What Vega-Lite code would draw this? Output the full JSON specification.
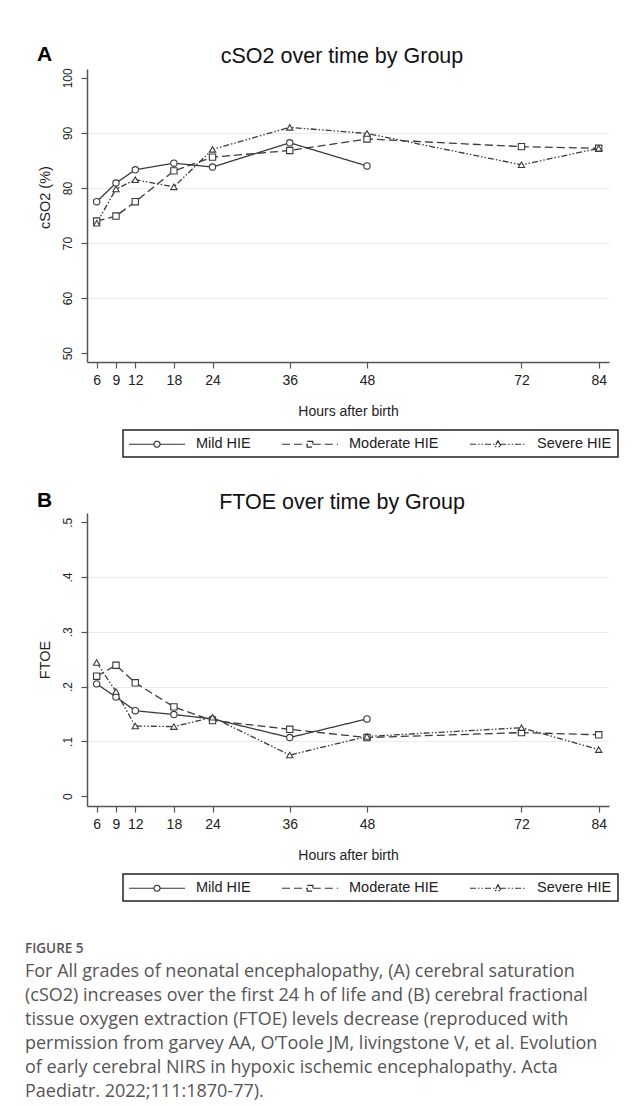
{
  "$schema": "https://vega.github.io/schema/vega-lite/v6.json",
  "background": "white",
  "padding": {"left": 25, "top": 44, "right": 5, "bottom": 5},
  "datasets": {
    "cso2": [
      {"group": "Mild HIE", "hour": 6, "value": 77.5},
      {"group": "Mild HIE", "hour": 9, "value": 80.9},
      {"group": "Mild HIE", "hour": 12, "value": 83.3},
      {"group": "Mild HIE", "hour": 18, "value": 84.5},
      {"group": "Mild HIE", "hour": 24, "value": 83.8},
      {"group": "Mild HIE", "hour": 36, "value": 88.2},
      {"group": "Mild HIE", "hour": 48, "value": 84.0},
      {"group": "Moderate HIE", "hour": 6, "value": 74.0},
      {"group": "Moderate HIE", "hour": 9, "value": 74.9},
      {"group": "Moderate HIE", "hour": 12, "value": 77.5},
      {"group": "Moderate HIE", "hour": 18, "value": 83.1},
      {"group": "Moderate HIE", "hour": 24, "value": 85.6},
      {"group": "Moderate HIE", "hour": 36, "value": 86.8},
      {"group": "Moderate HIE", "hour": 48, "value": 88.9},
      {"group": "Moderate HIE", "hour": 72, "value": 87.5},
      {"group": "Moderate HIE", "hour": 84, "value": 87.2},
      {"group": "Severe HIE", "hour": 6, "value": 73.6},
      {"group": "Severe HIE", "hour": 9, "value": 79.8},
      {"group": "Severe HIE", "hour": 12, "value": 81.5},
      {"group": "Severe HIE", "hour": 18, "value": 80.2},
      {"group": "Severe HIE", "hour": 24, "value": 87.0},
      {"group": "Severe HIE", "hour": 36, "value": 91.0},
      {"group": "Severe HIE", "hour": 48, "value": 89.9},
      {"group": "Severe HIE", "hour": 72, "value": 84.2},
      {"group": "Severe HIE", "hour": 84, "value": 87.2}
    ],
    "ftoe": [
      {"group": "Mild HIE", "hour": 6, "value": 0.205},
      {"group": "Mild HIE", "hour": 9, "value": 0.181},
      {"group": "Mild HIE", "hour": 12, "value": 0.156},
      {"group": "Mild HIE", "hour": 18, "value": 0.149},
      {"group": "Mild HIE", "hour": 24, "value": 0.141},
      {"group": "Mild HIE", "hour": 36, "value": 0.107},
      {"group": "Mild HIE", "hour": 48, "value": 0.141},
      {"group": "Moderate HIE", "hour": 6, "value": 0.219},
      {"group": "Moderate HIE", "hour": 9, "value": 0.239},
      {"group": "Moderate HIE", "hour": 12, "value": 0.207},
      {"group": "Moderate HIE", "hour": 18, "value": 0.163},
      {"group": "Moderate HIE", "hour": 24, "value": 0.138},
      {"group": "Moderate HIE", "hour": 36, "value": 0.122},
      {"group": "Moderate HIE", "hour": 48, "value": 0.107},
      {"group": "Moderate HIE", "hour": 72, "value": 0.116},
      {"group": "Moderate HIE", "hour": 84, "value": 0.112},
      {"group": "Severe HIE", "hour": 6, "value": 0.244},
      {"group": "Severe HIE", "hour": 9, "value": 0.191},
      {"group": "Severe HIE", "hour": 12, "value": 0.128},
      {"group": "Severe HIE", "hour": 18, "value": 0.127},
      {"group": "Severe HIE", "hour": 24, "value": 0.144},
      {"group": "Severe HIE", "hour": 36, "value": 0.075},
      {"group": "Severe HIE", "hour": 48, "value": 0.109},
      {"group": "Severe HIE", "hour": 72, "value": 0.125},
      {"group": "Severe HIE", "hour": 84, "value": 0.085}
    ]
  },
  "title": {
    "text": "FIGURE 5",
    "subtitle": [
      "For All grades of neonatal encephalopathy, (A) cerebral saturation",
      "(cSO2) increases over the first 24 h of life and (B) cerebral fractional",
      "tissue oxygen extraction (FTOE) levels decrease (reproduced with",
      "permission from garvey AA, O’Toole JM, livingstone V, et al. Evolution",
      "of early cerebral NIRS in hypoxic ischemic encephalopathy. Acta",
      "Paediatr. 2022;111:1870-77)."
    ],
    "orient": "bottom",
    "anchor": "start",
    "frame": "bounds",
    "dx": -12,
    "offset": 40,
    "font": "Open Sans",
    "fontSize": 13.5,
    "fontWeight": 600,
    "color": "#555555",
    "subtitleFont": "Open Sans",
    "subtitleFontSize": 18,
    "subtitleColor": "#555555",
    "subtitleLineHeight": 24,
    "subtitlePadding": 8
  },
  "spacing": 31,
  "resolve": {"scale": {"strokeDash": "independent"}, "legend": {"strokeDash": "independent"}},
  "vconcat": [
    {
      "title": {"text": "A", "anchor": "start", "frame": "bounds", "fontSize": 21, "fontWeight": "bold", "color": "#000000", "font": "Liberation Sans", "offset": 0, "dy": 19},
      "resolve": {"scale": {"strokeDash": "independent"}, "legend": {"strokeDash": "independent"}},
      "vconcat": [
        {
          "width": 522,
          "height": 293,
          "data": {"name": "cso2"},
          "title": {"text": "cSO2 over time by Group", "anchor": "middle", "frame": "group", "dx": -6, "fontSize": 21.5, "fontWeight": "normal", "font": "Liberation Sans", "color": "#111111", "offset": 0},
          "encoding": {
            "x": {"field": "hour", "type": "quantitative", "scale": {"domain": [4.5, 85.6], "nice": false, "zero": false}, "axis": {"values": [6, 9, 12, 18, 24, 36, 48, 72, 84], "title": "Hours after birth", "grid": false}},
            "y": {"field": "value", "type": "quantitative", "scale": {"domain": [48.4, 101.6], "nice": false, "zero": false}, "axis": {"values": [50, 60, 70, 80, 90, 100], "title": "cSO2 (%)", "titleY": 128, "gridOpacity": {"condition": {"test": "datum.value <= 50 || datum.value >= 100", "value": 0}, "value": 1}}}
          },
          "layer": [
            {
              "mark": {"type": "line", "color": "#3a3a3a", "strokeWidth": 1.3},
              "encoding": {
                "strokeDash": {
                  "field": "group", "type": "nominal",
                  "scale": {"domain": ["Mild HIE", "Moderate HIE", "Severe HIE"], "range": [[1, 0], [8, 4], [6, 2, 1.5, 2, 1.5, 2]]},
                  "legend": {
                    "title": null, "orient": "none", "legendX": 36, "legendY": 361, "direction": "horizontal",
                    "strokeColor": "#222222", "padding": 6, "symbolSize": 196, "symbolOffset": 20, "labelOffset": 31, "columnPadding": 28,
                    "labelFont": "Liberation Sans", "labelFontSize": 14.5, "labelColor": "#222222", "symbolStrokeWidth": 1.2, "symbolStrokeColor": "#333333", "symbolFillColor": "white",
                    "encode": {
                      "symbols": {"update": {
                        "shape": {"signal": "datum.value === 'Mild HIE' ? 'M-4,0L-0.43,0M0.43,0L4,0M0.43,0A0.43,0.43,0,1,1,-0.43,0A0.43,0.43,0,1,1,0.43,0' : datum.value === 'Moderate HIE' ? 'M-4,0L-0.4,0M0.4,0L4,0M-0.4,-0.4L0.4,-0.4L0.4,0.4L-0.4,0.4Z' : 'M-4,0L-0.3,0M0.3,0L4,0M0,-0.5L0.45,0.35L-0.45,0.35Z'"},
                        "fill": {"value": "white"},
                        "stroke": {"value": "#333333"}
                      }},
                      "legend": {"update": {"strokeWidth": {"value": 1.5}}}
                    }
                  }
                }
              }
            },
            {
              "transform": [{"filter": "datum.group === 'Mild HIE'"}],
              "mark": {"type": "point", "shape": "circle", "filled": true, "fill": "white", "stroke": "#3a3a3a", "strokeWidth": 1.1, "size": 40, "opacity": 1}
            },
            {
              "transform": [{"filter": "datum.group === 'Moderate HIE'"}],
              "mark": {"type": "point", "shape": "square", "filled": true, "fill": "white", "stroke": "#3a3a3a", "strokeWidth": 1.1, "size": 40, "opacity": 1}
            },
            {
              "transform": [{"filter": "datum.group === 'Severe HIE'"}],
              "mark": {"type": "point", "shape": "triangle-up", "filled": true, "fill": "white", "stroke": "#3a3a3a", "strokeWidth": 1.1, "size": 40, "opacity": 1}
            }
          ]
        }
      ]
    },
    {
      "title": {"text": "B", "anchor": "start", "frame": "bounds", "fontSize": 21, "fontWeight": "bold", "color": "#000000", "font": "Liberation Sans", "offset": 0, "dy": 19},
      "resolve": {"scale": {"strokeDash": "independent"}, "legend": {"strokeDash": "independent"}},
      "vconcat": [
        {
          "width": 522,
          "height": 293,
          "data": {"name": "ftoe"},
          "title": {"text": "FTOE over time by Group", "anchor": "middle", "frame": "group", "dx": -6, "fontSize": 21.5, "fontWeight": "normal", "font": "Liberation Sans", "color": "#111111", "offset": 0},
          "encoding": {
            "x": {"field": "hour", "type": "quantitative", "scale": {"domain": [4.5, 85.6], "nice": false, "zero": false}, "axis": {"values": [6, 9, 12, 18, 24, 36, 48, 72, 84], "title": "Hours after birth", "grid": false}},
            "y": {"field": "value", "type": "quantitative", "scale": {"domain": [-0.018, 0.517], "nice": false, "zero": false}, "axis": {"values": [0, 0.1, 0.2, 0.3, 0.4, 0.5], "title": "FTOE", "labelExpr": "datum.value == 0 ? '0' : replace(format(datum.value, '.1f'), '0.', '.')", "gridOpacity": {"condition": {"test": "datum.value <= 0 || datum.value >= 0.5", "value": 0}, "value": 1}}}
          },
          "layer": [
            {
              "mark": {"type": "line", "color": "#3a3a3a", "strokeWidth": 1.3},
              "encoding": {
                "strokeDash": {
                  "field": "group", "type": "nominal",
                  "scale": {"domain": ["Mild HIE", "Moderate HIE", "Severe HIE"], "range": [[1, 0], [8, 4], [6, 2, 1.5, 2, 1.5, 2]]},
                  "legend": {
                    "title": null, "orient": "none", "legendX": 36, "legendY": 361, "direction": "horizontal",
                    "strokeColor": "#222222", "padding": 6, "symbolSize": 196, "symbolOffset": 20, "labelOffset": 31, "columnPadding": 28,
                    "labelFont": "Liberation Sans", "labelFontSize": 14.5, "labelColor": "#222222", "symbolStrokeWidth": 1.2, "symbolStrokeColor": "#333333", "symbolFillColor": "white",
                    "encode": {
                      "symbols": {"update": {
                        "shape": {"signal": "datum.value === 'Mild HIE' ? 'M-4,0L-0.43,0M0.43,0L4,0M0.43,0A0.43,0.43,0,1,1,-0.43,0A0.43,0.43,0,1,1,0.43,0' : datum.value === 'Moderate HIE' ? 'M-4,0L-0.4,0M0.4,0L4,0M-0.4,-0.4L0.4,-0.4L0.4,0.4L-0.4,0.4Z' : 'M-4,0L-0.3,0M0.3,0L4,0M0,-0.5L0.45,0.35L-0.45,0.35Z'"},
                        "fill": {"value": "white"},
                        "stroke": {"value": "#333333"}
                      }},
                      "legend": {"update": {"strokeWidth": {"value": 1.5}}}
                    }
                  }
                }
              }
            },
            {
              "transform": [{"filter": "datum.group === 'Mild HIE'"}],
              "mark": {"type": "point", "shape": "circle", "filled": true, "fill": "white", "stroke": "#3a3a3a", "strokeWidth": 1.1, "size": 40, "opacity": 1}
            },
            {
              "transform": [{"filter": "datum.group === 'Moderate HIE'"}],
              "mark": {"type": "point", "shape": "square", "filled": true, "fill": "white", "stroke": "#3a3a3a", "strokeWidth": 1.1, "size": 40, "opacity": 1}
            },
            {
              "transform": [{"filter": "datum.group === 'Severe HIE'"}],
              "mark": {"type": "point", "shape": "triangle-up", "filled": true, "fill": "white", "stroke": "#3a3a3a", "strokeWidth": 1.1, "size": 40, "opacity": 1}
            }
          ]
        }
      ]
    }
  ],
  "config": {
    "font": "Liberation Sans",
    "view": {"stroke": null},
    "axis": {"domainColor": "#555555", "domainWidth": 1.5, "tickColor": "#555555", "tickWidth": 1.2, "tickSize": 6, "labelColor": "#222222", "titleColor": "#222222", "labelFont": "Liberation Sans", "titleFont": "Liberation Sans", "titleFontWeight": "normal"},
    "axisX": {"labelFontSize": 14, "labelPadding": 5, "titleFontSize": 14, "titlePadding": 17, "grid": false},
    "axisY": {"labelFontSize": 12, "labelAngle": -90, "labelAlign": "center", "labelBaseline": "bottom", "labelPadding": 7, "titleFontSize": 14.5, "titlePadding": 9, "gridColor": "#ebebeb", "gridWidth": 1}
  }
}
